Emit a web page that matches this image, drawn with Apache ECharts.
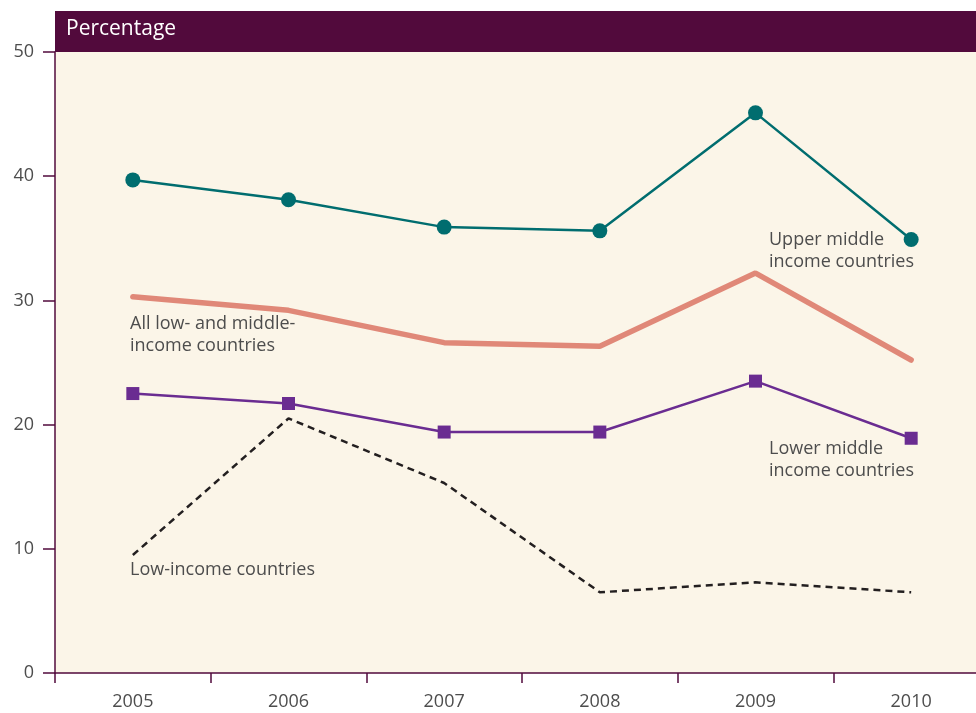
<!DOCTYPE html>
<html>
<head>
<meta charset="utf-8">
<script src="https://cdn.jsdelivr.net/npm/echarts@6/dist/echarts.min.js"></script>
<style>
  html, body { margin: 0; padding: 0; background: #ffffff; }
  #chart { width: 976px; height: 713px; }
</style>
</head>
<body>
<div id="chart"></div>
<script>
// données
const years = ['2005', '2006', '2007', '2008', '2009', '2010'];
const upperMiddle = [39.7, 38.1, 35.9, 35.6, 45.1, 34.9];
const allLowMiddle = [30.3, 29.2, 26.6, 26.3, 32.2, 25.2];
const lowerMiddle = [22.5, 21.7, 19.4, 19.4, 23.5, 18.9];
const lowIncome = [9.5, 20.5, 15.3, 6.5, 7.3, 6.5];
const yTicks = [0, 10, 20, 30, 40, 50];

const PURPLE_DARK = '#520a3c';
const FONT = '"Open Sans", "Noto Sans", sans-serif';

const chart = echarts.init(document.getElementById('chart'));

const option = {
    backgroundColor: '#ffffff',
    animation: false,
    // la dernière catégorie déborde à droite, comme sur l'original
    grid: { left: 55, right: -13, top: 52, bottom: 40, outerBoundsMode: 'none', containLabel: false },
    graphic: [
        // bandeau du titre
        { type: 'rect', shape: { x: 55, y: 11, width: 921, height: 41 }, style: { fill: PURPLE_DARK }, z: 10 },
        { type: 'text', x: 66, y: 19, style: { text: 'Percentage', fill: '#ffffff', font: '21px ' + FONT }, z: 11 },
        // étiquettes des séries
        { type: 'text', x: 769, y: 229, style: { text: 'Upper middle\nincome countries', fill: '#4d4d4d', font: '18px ' + FONT, lineHeight: 22 }, z: 11 },
        { type: 'text', x: 130, y: 313, style: { text: 'All low- and middle-\nincome countries', fill: '#4d4d4d', font: '18px ' + FONT, lineHeight: 22 }, z: 11 },
        { type: 'text', x: 769, y: 438, style: { text: 'Lower middle\nincome countries', fill: '#4d4d4d', font: '18px ' + FONT, lineHeight: 22 }, z: 11 },
        { type: 'text', x: 130, y: 561, style: { text: 'Low-income countries', fill: '#4d4d4d', font: '18px ' + FONT }, z: 11 }
    ],
    xAxis: {
        type: 'category',
        data: years,
        boundaryGap: true,
        axisLine: { lineStyle: { color: PURPLE_DARK, width: 1.5 } },
        axisTick: { show: true, inside: false, length: 10, lineStyle: { color: PURPLE_DARK, width: 1.5 } },
        axisLabel: { color: '#4d4d4d', fontSize: 18, fontFamily: FONT, margin: 20 },
        splitLine: { show: false }
    },
    yAxis: {
        type: 'value',
        min: yTicks[0],
        max: yTicks[yTicks.length - 1],
        interval: 10,
        axisLine: { show: true, lineStyle: { color: PURPLE_DARK, width: 1.5 } },
        axisTick: { show: true, length: 12, lineStyle: { color: PURPLE_DARK, width: 1.5 } },
        axisLabel: { color: '#4d4d4d', fontSize: 18, fontFamily: FONT, margin: 21 },
        splitLine: { show: false },
        splitArea: { show: true, areaStyle: { color: ['#fbf5e8'] } }
    },
    series: [
        {
            name: 'Upper middle income countries',
            type: 'line',
            data: upperMiddle,
            symbol: 'circle',
            symbolSize: 15,
            lineStyle: { color: '#006d6f', width: 2.5 },
            itemStyle: { color: '#006d6f' }
        },
        {
            name: 'All low- and middle-income countries',
            type: 'line',
            data: allLowMiddle,
            symbol: 'none',
            lineStyle: { color: '#e08878', width: 5.5, cap: 'round' }
        },
        {
            name: 'Lower middle income countries',
            type: 'line',
            data: lowerMiddle,
            symbol: 'rect',
            symbolSize: 13,
            lineStyle: { color: '#6a2c91', width: 2.5 },
            itemStyle: { color: '#6a2c91' }
        },
        {
            name: 'Low-income countries',
            type: 'line',
            data: lowIncome,
            symbol: 'none',
            lineStyle: { color: '#231f20', width: 2.5, type: [7, 5] }
        }
    ]
};

chart.setOption(option);
</script>
</body>
</html>
